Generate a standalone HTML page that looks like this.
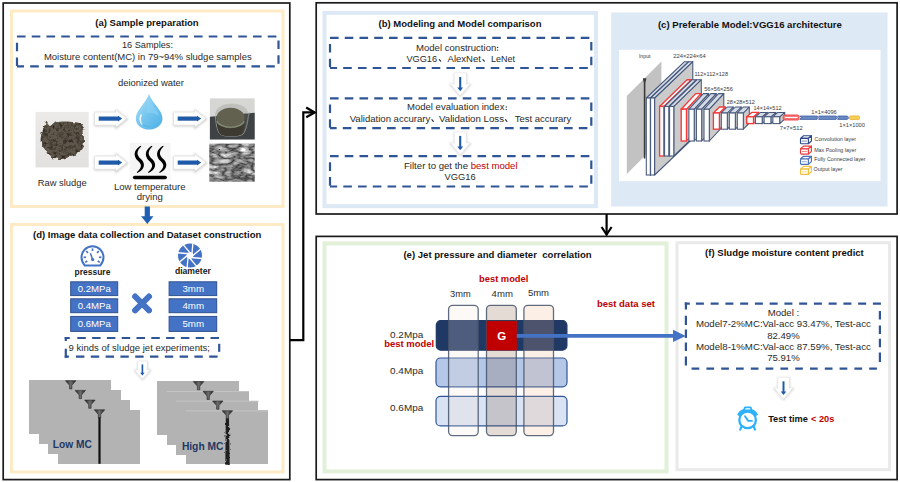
<!DOCTYPE html>
<html><head><meta charset="utf-8"><style>
html,body{margin:0;padding:0;background:#fff;}
body{width:900px;height:482px;overflow:hidden;}
svg{display:block;font-family:"Liberation Sans", sans-serif;}
</style></head><body>
<svg width="900" height="482" viewBox="0 0 900 482">
<defs>
<filter id="blur1" color-interpolation-filters="sRGB" x="-20%" y="-20%" width="140%" height="140%"><feGaussianBlur stdDeviation="0.8"/></filter>
<filter id="rough" color-interpolation-filters="sRGB" x="-10%" y="-10%" width="120%" height="120%"><feTurbulence type="fractalNoise" baseFrequency="0.35" numOctaves="2" seed="3" result="n"/><feDisplacementMap in="SourceGraphic" in2="n" scale="3.5" xChannelSelector="R" yChannelSelector="G"/></filter>
<filter id="lumpy" color-interpolation-filters="sRGB" x="-10%" y="-10%" width="120%" height="120%"><feTurbulence type="fractalNoise" baseFrequency="0.22" numOctaves="2" seed="8" result="n"/><feDisplacementMap in="SourceGraphic" in2="n" scale="5" xChannelSelector="R" yChannelSelector="G"/></filter>
<filter id="marble" color-interpolation-filters="sRGB" x="0" y="0" width="100%" height="100%"><feTurbulence type="turbulence" baseFrequency="0.075 0.17" numOctaves="3" seed="11" result="n"/><feColorMatrix in="n" type="matrix" values="1.05 0 0 0 0.2  1.05 0 0 0 0.2  1.05 0 0 0 0.2  0 0 0 0 1" result="c"/><feComposite in="c" in2="SourceGraphic" operator="in"/></filter>
<filter id="mottle" color-interpolation-filters="sRGB" x="0" y="0" width="100%" height="100%"><feTurbulence type="fractalNoise" baseFrequency="0.3" numOctaves="2" seed="5" result="n"/><feColorMatrix in="n" type="matrix" values="0 0 0 0 0.18  0 0 0 0 0.16  0 0 0 0 0.13  2.6 0 0 0 -1.1" result="d"/><feComposite in="d" in2="SourceGraphic" operator="in"/></filter>
<linearGradient id="gSludgeBg" x1="0" y1="0" x2="0" y2="1"><stop offset="0" stop-color="#ebeae8"/><stop offset="1" stop-color="#e2e1df"/></linearGradient>
<linearGradient id="gDrop" x1="0" y1="0" x2="1" y2="1"><stop offset="0" stop-color="#b9e4f9"/><stop offset="0.5" stop-color="#74c5ee"/><stop offset="1" stop-color="#4cb0e6"/></linearGradient>
<linearGradient id="gBeakBg" x1="0" y1="0" x2="0" y2="1"><stop offset="0" stop-color="#d6d8d6"/><stop offset="0.45" stop-color="#cfd1cf"/><stop offset="0.47" stop-color="#3b3d40"/><stop offset="1" stop-color="#4a4c4e"/></linearGradient>
<linearGradient id="gFun" x1="0" y1="0" x2="1" y2="0"><stop offset="0" stop-color="#1e1e1e"/><stop offset="0.5" stop-color="#707070"/><stop offset="1" stop-color="#1e1e1e"/></linearGradient>
</defs>
<rect width="900" height="482" fill="#fff"/>
<rect x="3.2" y="3" width="286.6" height="476.6" fill="none" stroke="#1b1b1b" stroke-width="1.7" rx="0"/>
<rect x="316.2" y="2.8" width="580.9" height="211.2" fill="none" stroke="#1b1b1b" stroke-width="1.7" rx="0"/>
<rect x="316.2" y="236.4" width="580.9" height="243.2" fill="none" stroke="#1b1b1b" stroke-width="1.7" rx="0"/>
<rect x="11.5" y="11" width="271.5" height="195.5" fill="none" stroke="#FEEBC6" stroke-width="3" rx="0"/>
<rect x="11.5" y="224.5" width="271.5" height="247.5" fill="none" stroke="#FEEBC6" stroke-width="3" rx="0"/>
<rect x="324.5" y="12.9" width="271.5" height="193.3" fill="none" stroke="#DEE9F6" stroke-width="4" rx="0"/>
<rect x="611.2" y="12.5" width="276.3" height="194" fill="#DEE9F6" stroke="none" stroke-width="1" rx="0"/>
<rect x="619" y="49.8" width="261.5" height="131.4" fill="#FFFFFF" stroke="none" stroke-width="1" rx="0"/>
<rect x="324.5" y="243.4" width="342" height="228" fill="none" stroke="#E2F0D9" stroke-width="4" rx="0"/>
<rect x="677" y="242.7" width="212.5" height="227" fill="none" stroke="#EAEAEA" stroke-width="3" rx="0"/>
<polyline points="290,340.2 303.3,340.2 303.3,112.4 314.5,112.4" fill="none" stroke="#000" stroke-width="2.2"/>
<polyline points="306.2,107.6 314.6,112.4 306.2,117.2" fill="none" stroke="#000" stroke-width="2.3"/>
<line x1="606.6" y1="214" x2="606.6" y2="235.2" stroke="#000" stroke-width="2.2"/>
<polyline points="601.6,227.0 606.6,234.6 611.6,227.0" fill="none" stroke="#000" stroke-width="2.2"/>
<text x="95.3" y="26" font-size="9.55" font-weight="bold" fill="#111" text-anchor="start" textLength="103.4" lengthAdjust="spacingAndGlyphs">(a) Sample preparation</text>
<path d="M17,36.5 H278.5 V66.3 H17" fill="none" stroke="#2F5597" stroke-width="2.2" stroke-dasharray="8.6 6.15"/>
<path d="M17,36.5 V66.3" fill="none" stroke="#2F5597" stroke-width="2.2" stroke-dasharray="8.6 6.15" stroke-dashoffset="8.6"/>
<text x="121.9" y="48.3" font-size="9.3" font-weight="normal" fill="#2a2a2a" text-anchor="start" textLength="51.1" lengthAdjust="spacingAndGlyphs">16 Samples:</text>
<text x="43.9" y="59.8" font-size="9.5" font-weight="normal" fill="#2a2a2a" text-anchor="start" textLength="207.8" lengthAdjust="spacingAndGlyphs">Moisture content(MC) in 79~94% sludge samples</text>
<text x="118" y="85.7" font-size="9.4" font-weight="normal" fill="#2a2a2a" text-anchor="start" textLength="66" lengthAdjust="spacingAndGlyphs">deionized water</text>
<text x="37.8" y="185.9" font-size="9.4" font-weight="normal" fill="#2a2a2a" text-anchor="start" textLength="48.9" lengthAdjust="spacingAndGlyphs">Raw sludge</text>
<text x="113.9" y="190.1" font-size="9.5" font-weight="normal" fill="#2a2a2a" text-anchor="start" textLength="71.7" lengthAdjust="spacingAndGlyphs">Low temperature</text>
<text x="136.7" y="200.2" font-size="9.5" font-weight="normal" fill="#2a2a2a" text-anchor="start" textLength="26.1" lengthAdjust="spacingAndGlyphs">drying</text>
<rect x="35.5" y="111.9" width="53.2" height="55.5" fill="url(#gSludgeBg)" stroke="none" stroke-width="1" rx="0"/>
<g filter="url(#lumpy)"><path d="M46.4,120.8 C48,123 49.5,125.5 51,126.2 C53,124 56,122 60,121.8 C65,121 70,122 75,122.3 C79,122.5 82,123.5 82.8,126.5 C84,131 83.5,136 84,141 C84.2,145 83,149 80.5,152 C77,154 73,155 69,157 C65,159 60,159.5 55,158.5 C51,157 48.5,154 46.5,151 C43.5,148 41,145 40.8,141 C40.5,137 41.5,133 43,130 C44,127 44.5,123.5 46.4,120.8 Z" fill="#60574b"/><path d="M46.4,120.8 C48,123 49.5,125.5 51,126.2 C53,124 56,122 60,121.8 C65,121 70,122 75,122.3 C79,122.5 82,123.5 82.8,126.5 C84,131 83.5,136 84,141 C84.2,145 83,149 80.5,152 C77,154 73,155 69,157 C65,159 60,159.5 55,158.5 C51,157 48.5,154 46.5,151 C43.5,148 41,145 40.8,141 C40.5,137 41.5,133 43,130 C44,127 44.5,123.5 46.4,120.8 Z" fill="#000" filter="url(#mottle)"/></g>
<polygon points="95.30,113.00 116.30,113.00 116.30,111.00 126.80,119.20 116.30,127.40 116.30,125.40 95.30,125.40" fill="none" stroke="#cfcfcf" stroke-width="2.2" filter="url(#blur1)" stroke-linejoin="miter"/>
<polygon points="95.00,112.40 116.00,112.40 116.00,110.40 126.50,118.60 116.00,126.80 116.00,124.80 95.00,124.80" fill="#ffffff" stroke="none" stroke-width="1"/>
<line x1="98.7" y1="118.6" x2="119.0" y2="118.6" stroke="#1F5AA8" stroke-width="4.2"/>
<polygon points="118.00,115.70 122.20,118.60 118.00,121.50" fill="#1F5AA8" stroke="none" stroke-width="1"/>
<polygon points="174.30,113.00 195.30,113.00 195.30,111.00 205.80,119.20 195.30,127.40 195.30,125.40 174.30,125.40" fill="none" stroke="#cfcfcf" stroke-width="2.2" filter="url(#blur1)" stroke-linejoin="miter"/>
<polygon points="174.00,112.40 195.00,112.40 195.00,110.40 205.50,118.60 195.00,126.80 195.00,124.80 174.00,124.80" fill="#ffffff" stroke="none" stroke-width="1"/>
<line x1="177.7" y1="118.6" x2="198.0" y2="118.6" stroke="#1F5AA8" stroke-width="4.2"/>
<polygon points="197.00,115.70 201.20,118.60 197.00,121.50" fill="#1F5AA8" stroke="none" stroke-width="1"/>
<polygon points="95.30,157.00 116.30,157.00 116.30,155.00 126.80,163.20 116.30,171.40 116.30,169.40 95.30,169.40" fill="none" stroke="#cfcfcf" stroke-width="2.2" filter="url(#blur1)" stroke-linejoin="miter"/>
<polygon points="95.00,156.40 116.00,156.40 116.00,154.40 126.50,162.60 116.00,170.80 116.00,168.80 95.00,168.80" fill="#ffffff" stroke="none" stroke-width="1"/>
<line x1="98.7" y1="162.6" x2="119.0" y2="162.6" stroke="#1F5AA8" stroke-width="4.2"/>
<polygon points="118.00,159.70 122.20,162.60 118.00,165.50" fill="#1F5AA8" stroke="none" stroke-width="1"/>
<polygon points="174.30,157.00 195.30,157.00 195.30,155.00 205.80,163.20 195.30,171.40 195.30,169.40 174.30,169.40" fill="none" stroke="#cfcfcf" stroke-width="2.2" filter="url(#blur1)" stroke-linejoin="miter"/>
<polygon points="174.00,156.40 195.00,156.40 195.00,154.40 205.50,162.60 195.00,170.80 195.00,168.80 174.00,168.80" fill="#ffffff" stroke="none" stroke-width="1"/>
<line x1="177.7" y1="162.6" x2="198.0" y2="162.6" stroke="#1F5AA8" stroke-width="4.2"/>
<polygon points="197.00,159.70 201.20,162.60 197.00,165.50" fill="#1F5AA8" stroke="none" stroke-width="1"/>
<path d="M149,94 C152,103 162.5,110 162.5,118.5 C162.5,125 156.5,129.6 149,129.6 C141.5,129.6 135.8,125 135.8,118.5 C135.8,110 146,103 149,94 Z" fill="url(#gDrop)"/>
<path d="M149,97 C151,104 158,110 159,116 C155,113 150,112 146,113 C147,108 148,102 149,97 Z" fill="#8fd3f5" opacity="0.55"/>
<path d="M141,115 C140,118 140,122 142,124" stroke="#ffffff" stroke-width="1.6" fill="none" stroke-linecap="round" opacity="0.9"/>
<path d="M140,120 C141,127 150,129 158,125 C154,127.5 144,128 140,120 Z" fill="#2d9bd8" opacity="0.35"/>
<rect x="209.9" y="98.4" width="44.8" height="41.0" fill="#d6d7d5" stroke="none" stroke-width="1" rx="0"/>
<polygon points="209.90,116.80 254.70,112.80 254.70,139.40 209.90,139.40" fill="#3f4244" stroke="none" stroke-width="1"/>
<path d="M215.4,115 C215.4,108 222.5,104 231.5,104 C240.5,104 247.6,107.5 247.8,113.5 L249.8,111.8 L248.3,116.5 C247.5,124 246,130.5 243,134.2 C238,137.2 225,137.2 220,134.2 C217,130.5 215.6,123 215.4,115 Z" fill="#6c6f66" fill-opacity="0.22" stroke="#b9bfb4" stroke-width="1" stroke-opacity="0.55"/>
<path d="M216.6,119 C216.8,126 218,131.5 220.4,134.4 C226,137 236.5,137 241.5,134.4 C243.8,131.5 244.6,126 244.8,119 Z" fill="#3d3a31"/>
<ellipse cx="230.6" cy="118.0" rx="14.1" ry="10.3" fill="#62604f"/>
<path d="M216.9,121 C219.5,129.3 241.8,129.3 244.3,121" fill="none" stroke="#8fa287" stroke-width="1.2" stroke-opacity="0.75"/>
<rect x="209.3" y="143.6" width="45.5" height="38.0" fill="#888" stroke="none" stroke-width="1" rx="0" filter="url(#marble)"/>
<rect x="129.6" y="142.8" width="41" height="37" fill="#f5f5f5" stroke="none" stroke-width="1" rx="0"/>
<polygon points="140.78,145.73 139.70,146.31 138.76,146.98 137.91,147.69 137.17,148.42 136.52,149.17 135.96,149.95 135.50,150.76 135.14,151.58 134.87,152.43 134.72,153.30 134.67,154.17 134.72,155.05 134.88,155.91 135.13,156.76 135.48,157.58 135.91,158.38 136.42,159.14 137.00,159.88 137.65,160.59 138.33,161.23 138.97,161.85 139.48,162.41 139.90,162.95 140.22,163.46 140.47,163.95 140.66,164.42 140.78,164.87 140.85,165.33 140.87,165.80 140.82,166.28 140.72,166.79 140.56,167.32 140.32,167.88 140.01,168.46 139.64,169.06 139.19,169.67 138.67,170.29 138.10,170.93 137.46,171.58 136.80,172.31 137.20,172.89 138.13,172.52 138.99,172.06 139.78,171.55 140.52,171.01 141.19,170.43 141.81,169.82 142.36,169.18 142.84,168.49 143.24,167.76 143.55,167.00 143.77,166.19 143.88,165.36 143.87,164.50 143.75,163.63 143.51,162.77 143.15,161.92 142.68,161.09 142.11,160.29 141.42,159.50 140.67,158.77 140.06,158.19 139.54,157.66 139.09,157.13 138.70,156.60 138.37,156.08 138.09,155.56 137.87,155.04 137.70,154.52 137.59,153.99 137.53,153.45 137.53,152.88 137.60,152.29 137.74,151.66 137.96,151.00 138.26,150.30 138.66,149.57 139.16,148.81 139.76,148.01 140.45,147.19 141.22,146.27" fill="#000" stroke="none" stroke-width="1"/>
<polygon points="151.98,145.73 150.90,146.31 149.96,146.98 149.11,147.69 148.37,148.42 147.72,149.17 147.16,149.95 146.70,150.76 146.34,151.58 146.07,152.43 145.92,153.30 145.87,154.17 145.92,155.05 146.08,155.91 146.33,156.76 146.68,157.58 147.11,158.38 147.62,159.14 148.20,159.88 148.85,160.59 149.53,161.23 150.17,161.85 150.68,162.41 151.10,162.95 151.42,163.46 151.67,163.95 151.86,164.42 151.98,164.87 152.05,165.33 152.07,165.80 152.02,166.28 151.92,166.79 151.76,167.32 151.52,167.88 151.21,168.46 150.84,169.06 150.39,169.67 149.87,170.29 149.30,170.93 148.66,171.58 148.00,172.31 148.40,172.89 149.33,172.52 150.19,172.06 150.98,171.55 151.72,171.01 152.39,170.43 153.01,169.82 153.56,169.18 154.04,168.49 154.44,167.76 154.75,167.00 154.97,166.19 155.08,165.36 155.07,164.50 154.95,163.63 154.71,162.77 154.35,161.92 153.88,161.09 153.31,160.29 152.62,159.50 151.87,158.77 151.26,158.19 150.74,157.66 150.29,157.13 149.90,156.60 149.57,156.08 149.29,155.56 149.07,155.04 148.90,154.52 148.79,153.99 148.73,153.45 148.73,152.88 148.80,152.29 148.94,151.66 149.16,151.00 149.46,150.30 149.86,149.57 150.36,148.81 150.96,148.01 151.65,147.19 152.42,146.27" fill="#000" stroke="none" stroke-width="1"/>
<polygon points="163.18,145.73 162.10,146.31 161.16,146.98 160.31,147.69 159.57,148.42 158.92,149.17 158.36,149.95 157.90,150.76 157.54,151.58 157.27,152.43 157.12,153.30 157.07,154.17 157.12,155.05 157.28,155.91 157.53,156.76 157.88,157.58 158.31,158.38 158.82,159.14 159.40,159.88 160.05,160.59 160.73,161.23 161.37,161.85 161.88,162.41 162.30,162.95 162.62,163.46 162.87,163.95 163.06,164.42 163.18,164.87 163.25,165.33 163.27,165.80 163.22,166.28 163.12,166.79 162.96,167.32 162.72,167.88 162.41,168.46 162.04,169.06 161.59,169.67 161.07,170.29 160.50,170.93 159.86,171.58 159.20,172.31 159.60,172.89 160.53,172.52 161.39,172.06 162.18,171.55 162.92,171.01 163.59,170.43 164.21,169.82 164.76,169.18 165.24,168.49 165.64,167.76 165.95,167.00 166.17,166.19 166.28,165.36 166.27,164.50 166.15,163.63 165.91,162.77 165.55,161.92 165.08,161.09 164.51,160.29 163.82,159.50 163.07,158.77 162.46,158.19 161.94,157.66 161.49,157.13 161.10,156.60 160.77,156.08 160.49,155.56 160.27,155.04 160.10,154.52 159.99,153.99 159.93,153.45 159.93,152.88 160.00,152.29 160.14,151.66 160.36,151.00 160.66,150.30 161.06,149.57 161.56,148.81 162.16,148.01 162.85,147.19 163.62,146.27" fill="#000" stroke="none" stroke-width="1"/>
<line x1="134.6" y1="177.5" x2="165.2" y2="177.5" stroke="#000" stroke-width="3.5" stroke-linecap="round"/>
<polygon points="144.70,206.40 149.90,206.40 149.90,216.30 153.50,216.30 147.30,224.00 141.10,216.30 144.70,216.30" fill="#1F5FB4" stroke="none" stroke-width="1"/>
<text x="33" y="238" font-size="9.55" font-weight="bold" fill="#111" text-anchor="start" textLength="228.3" lengthAdjust="spacingAndGlyphs">(d) Image data collection and Dataset construction</text>
<path d="M84.8,265.6 C82.6,263 81.5,260.5 81.5,257.3 A11,11 0 0 1 103.5,257.3 C103.5,260.5 102.4,263 100.2,265.6 Z" fill="none" stroke="#4472C4" stroke-width="2.0" stroke-linejoin="round"/>
<line x1="92.5" y1="250.9" x2="92.5" y2="248.4" stroke="#4472C4" stroke-width="1.7"/>
<line x1="97.02548339959391" y1="252.77451660040612" x2="98.79325035256028" y2="251.00674964743973" stroke="#4472C4" stroke-width="1.7"/>
<line x1="87.97451660040609" y1="252.77451660040612" x2="86.20674964743972" y2="251.00674964743973" stroke="#4472C4" stroke-width="1.7"/>
<line x1="98.9" y1="257.3" x2="101.4" y2="257.3" stroke="#4472C4" stroke-width="1.7"/>
<line x1="86.1" y1="257.3" x2="83.6" y2="257.3" stroke="#4472C4" stroke-width="1.7"/>
<line x1="97.74257308344954" y1="260.9708891926467" x2="99.79045319417203" y2="262.40483028352435" stroke="#4472C4" stroke-width="1.7"/>
<line x1="87.25742691655046" y1="260.9708891926467" x2="85.20954680582797" y2="262.40483028352435" stroke="#4472C4" stroke-width="1.7"/>
<line x1="92.6" y1="259.6" x2="90.4" y2="253.2" stroke="#4472C4" stroke-width="1.5"/>
<circle cx="92.7" cy="259.6" r="1.6" fill="#4472C4"/>
<circle cx="190" cy="255.6" r="12" fill="#4472C4"/>
<line x1="190.83931436114597" y1="257.4803061993128" x2="202.29555338920102" y2="258.4825972409109" stroke="#ffffff" stroke-width="1.35"/>
<line x1="189.2639076120724" y1="257.5230621405547" x2="196.65596512346758" y2="266.33257323642295" stroke="#ffffff" stroke-width="1.35"/>
<line x1="188.1196938006872" y1="256.43931436114593" x2="187.11740275908912" y2="267.89555338920104" stroke="#ffffff" stroke-width="1.35"/>
<line x1="188.07693785944525" y1="254.86390761207238" x2="179.267426763577" y2="262.2559651234676" stroke="#ffffff" stroke-width="1.35"/>
<line x1="189.16068563885403" y1="253.7196938006872" x2="177.70444661079898" y2="252.71740275908914" stroke="#ffffff" stroke-width="1.35"/>
<line x1="190.7360923879276" y1="253.67693785944525" x2="183.34403487653242" y2="244.867426763577" stroke="#ffffff" stroke-width="1.35"/>
<line x1="191.8803061993128" y1="254.76068563885403" x2="192.88259724091085" y2="243.30444661079898" stroke="#ffffff" stroke-width="1.35"/>
<line x1="191.92306214055475" y1="256.33609238792764" x2="200.732573236423" y2="248.94403487653244" stroke="#ffffff" stroke-width="1.35"/>
<circle cx="190" cy="255.6" r="3.3" fill="#ffffff"/>
<text x="74.6" y="275" font-size="8.5" font-weight="bold" fill="#1a1a1a" text-anchor="start" textLength="35.8" lengthAdjust="spacingAndGlyphs">pressure</text>
<text x="174.9" y="274.2" font-size="8.6" font-weight="bold" fill="#1a1a1a" text-anchor="start" textLength="35.9" lengthAdjust="spacingAndGlyphs">diameter</text>
<rect x="70.7" y="281.8" width="47" height="13.800000000000011" fill="#4472C4" stroke="#2F528F" stroke-width="1" rx="0"/>
<text x="77.7" y="291.9" font-size="9.6" font-weight="normal" fill="#ffffff" text-anchor="start" textLength="33.1" lengthAdjust="spacingAndGlyphs">0.2MPa</text>
<rect x="70.7" y="298.8" width="47" height="13.899999999999977" fill="#4472C4" stroke="#2F528F" stroke-width="1" rx="0"/>
<text x="77.7" y="309.0" font-size="9.6" font-weight="normal" fill="#ffffff" text-anchor="start" textLength="33.1" lengthAdjust="spacingAndGlyphs">0.4MPa</text>
<rect x="70.7" y="316.4" width="47" height="15.0" fill="#4472C4" stroke="#2F528F" stroke-width="1" rx="0"/>
<text x="77.7" y="327.2" font-size="9.6" font-weight="normal" fill="#ffffff" text-anchor="start" textLength="33.1" lengthAdjust="spacingAndGlyphs">0.6MPa</text>
<rect x="169.1" y="281.8" width="47.6" height="13.800000000000011" fill="#4472C4" stroke="#2F528F" stroke-width="1" rx="0"/>
<text x="182.4" y="292.3" font-size="9.6" font-weight="normal" fill="#ffffff" text-anchor="start" textLength="21.6" lengthAdjust="spacingAndGlyphs">3mm</text>
<rect x="169.1" y="298.8" width="47.6" height="13.899999999999977" fill="#4472C4" stroke="#2F528F" stroke-width="1" rx="0"/>
<text x="182.4" y="309.1" font-size="9.6" font-weight="normal" fill="#ffffff" text-anchor="start" textLength="21.6" lengthAdjust="spacingAndGlyphs">4mm</text>
<rect x="169.1" y="316.4" width="47.6" height="15.0" fill="#4472C4" stroke="#2F528F" stroke-width="1" rx="0"/>
<text x="182.4" y="327.1" font-size="9.6" font-weight="normal" fill="#ffffff" text-anchor="start" textLength="21.6" lengthAdjust="spacingAndGlyphs">5mm</text>
<line x1="135.1" y1="296.5" x2="149.0" y2="310.4" stroke="#4472C4" stroke-width="6.0" stroke-linecap="round"/>
<line x1="149.0" y1="296.5" x2="135.1" y2="310.4" stroke="#4472C4" stroke-width="6.0" stroke-linecap="round"/>
<path d="M64.70,338.0 H69.80 M77.30,338.0 H85.80 M92.10,338.0 H100.60 M106.90,338.0 H115.40 M121.70,338.0 H130.20 M136.50,338.0 H145.00 M151.30,338.0 H159.80 M166.10,338.0 H174.60 M180.90,338.0 H189.40 M195.70,338.0 H204.20 M210.50,338.0 H219.00" fill="none" stroke="#2F5597" stroke-width="2.2"/>
<path d="M219.2,343.80 V351.80" fill="none" stroke="#2F5597" stroke-width="2.2"/>
<path d="M64.70,356.7 H68.90 M76.00,356.7 H84.40 M90.80,356.7 H99.20 M105.60,356.7 H114.00 M120.40,356.7 H128.80 M135.20,356.7 H143.60 M150.00,356.7 H158.40 M164.80,356.7 H173.20 M179.60,356.7 H188.00 M194.40,356.7 H202.80 M209.20,356.7 H217.60" fill="none" stroke="#2F5597" stroke-width="2.2"/>
<path d="M65.8,337.00 V341.10 M65.8,348.70 V357.80" fill="none" stroke="#2F5597" stroke-width="2.2"/>
<text x="68.6" y="350.6" font-size="9.5" font-weight="normal" fill="#2a2a2a" text-anchor="start" textLength="141.4" lengthAdjust="spacingAndGlyphs">9 kinds of sludge jet experiments;</text>
<polygon points="138.23,362.10 146.97,362.10 146.97,370.68 149.93,370.68 142.60,379.26 135.27,370.68 138.23,370.68" fill="none" stroke="#d3d3d3" stroke-width="1.8" filter="url(#blur1)"/>
<polygon points="138.03,361.50 146.77,361.50 146.77,370.08 149.73,370.08 142.40,378.66 135.07,370.08 138.03,370.08" fill="#ffffff" stroke="none" stroke-width="1"/>
<line x1="142.4" y1="364.386" x2="142.4" y2="373.2" stroke="#1F5AA8" stroke-width="1.6380000000000001"/>
<polygon points="140.14,372.65 144.66,372.65 142.40,375.54" fill="#1F5AA8" stroke="none" stroke-width="1"/>
<rect x="29" y="380" width="82" height="54" fill="#b3b3b3" stroke="none" stroke-width="1" rx="0" shape-rendering="crispEdges"/>
<rect x="39" y="390" width="82" height="54" fill="#b3b3b3" stroke="none" stroke-width="1" rx="0" shape-rendering="crispEdges"/>
<rect x="48" y="400" width="82" height="54" fill="#b3b3b3" stroke="none" stroke-width="1" rx="0" shape-rendering="crispEdges"/>
<rect x="58" y="410" width="82" height="54" fill="#b3b3b3" stroke="none" stroke-width="1" rx="0" shape-rendering="crispEdges"/>
<polygon points="65.50,380.70 75.90,380.70 71.90,385.30 71.90,388.90 69.50,388.90 69.50,385.30" fill="url(#gFun)" stroke="#2a2a2a" stroke-width="0.6"/>
<polygon points="75.10,390.40 85.50,390.40 81.50,395.00 81.50,398.60 79.10,398.60 79.10,395.00" fill="url(#gFun)" stroke="#2a2a2a" stroke-width="0.6"/>
<polygon points="84.70,400.10 95.10,400.10 91.10,404.70 91.10,408.30 88.70,408.30 88.70,404.70" fill="url(#gFun)" stroke="#2a2a2a" stroke-width="0.6"/>
<polygon points="94.30,409.80 104.70,409.80 100.70,414.40 100.70,418.00 98.30,418.00 98.30,414.40" fill="url(#gFun)" stroke="#2a2a2a" stroke-width="0.6"/>
<rect x="98.4" y="417.5" width="2.2" height="46.30000000000001" fill="#111" stroke="none" stroke-width="1" rx="0"/>
<rect x="157" y="381" width="82" height="54" fill="#b3b3b3" stroke="none" stroke-width="1" rx="0" shape-rendering="crispEdges"/>
<rect x="167" y="391" width="82" height="54" fill="#b3b3b3" stroke="none" stroke-width="1" rx="0" shape-rendering="crispEdges"/>
<line x1="166.6" y1="391.5" x2="249.0" y2="391.5" stroke="#c4c4c4" stroke-width="1"/>
<rect x="176" y="401" width="82" height="54" fill="#b3b3b3" stroke="none" stroke-width="1" rx="0" shape-rendering="crispEdges"/>
<line x1="176.2" y1="401.2" x2="258.6" y2="401.2" stroke="#c4c4c4" stroke-width="1"/>
<rect x="186" y="410" width="82" height="54" fill="#b3b3b3" stroke="none" stroke-width="1" rx="0" shape-rendering="crispEdges"/>
<line x1="185.8" y1="410.90000000000003" x2="268.20000000000005" y2="410.90000000000003" stroke="#c4c4c4" stroke-width="1"/>
<polygon points="193.40,381.60 203.80,381.60 199.80,386.20 199.80,389.80 197.40,389.80 197.40,386.20" fill="url(#gFun)" stroke="#2a2a2a" stroke-width="0.6"/>
<polygon points="203.00,391.30 213.40,391.30 209.40,395.90 209.40,399.50 207.00,399.50 207.00,395.90" fill="url(#gFun)" stroke="#2a2a2a" stroke-width="0.6"/>
<polygon points="212.60,401.00 223.00,401.00 219.00,405.60 219.00,409.20 216.60,409.20 216.60,405.60" fill="url(#gFun)" stroke="#2a2a2a" stroke-width="0.6"/>
<polygon points="222.20,410.70 232.60,410.70 228.60,415.30 228.60,418.90 226.20,418.90 226.20,415.30" fill="url(#gFun)" stroke="#2a2a2a" stroke-width="0.6"/>
<path d="M225.79999999999998,418.40000000000003 L228.99999999999997,418.40000000000003 L229.7,464.70000000000005 L225.29999999999998,464.70000000000005 Z" fill="#1f1f1f" filter="url(#rough)"/>
<text x="52.8" y="447.8" font-size="10.2" font-weight="bold" fill="#203864" text-anchor="start" textLength="39" lengthAdjust="spacingAndGlyphs">Low MC</text>
<text x="181.9" y="449.9" font-size="10.2" font-weight="bold" fill="#203864" text-anchor="start" textLength="41.5" lengthAdjust="spacingAndGlyphs">High MC</text>
<text x="378.5" y="27.1" font-size="9.55" font-weight="bold" fill="#111" text-anchor="start" textLength="163" lengthAdjust="spacingAndGlyphs">(b) Modeling and Model comparison</text>
<path d="M330,37.8 H591.3 V68.0 H330" fill="none" stroke="#2F5597" stroke-width="2.2" stroke-dasharray="8.6 6.15"/>
<path d="M330,37.8 V68.0" fill="none" stroke="#2F5597" stroke-width="2.2" stroke-dasharray="8.6 6.15" stroke-dashoffset="8.6"/>
<text x="416" y="50.7" font-size="9.7" font-weight="normal" fill="#2a2a2a" text-anchor="start" textLength="80.3" lengthAdjust="spacingAndGlyphs">Model construction</text>
<circle cx="497.6" cy="47.4" r="0.72" fill="#2a2a2a"/><circle cx="497.6" cy="50.1" r="0.72" fill="#2a2a2a"/>
<text x="406.4" y="61.6" font-size="9.6" font-weight="normal" fill="#2a2a2a" text-anchor="start" textLength="30.6" lengthAdjust="spacingAndGlyphs">VGG16</text>
<path d="M439.3,59.6 L440.70000000000005,61.2" stroke="#2a2a2a" stroke-width="1.15" stroke-linecap="round"/>
<text x="447.5" y="61.6" font-size="9.6" font-weight="normal" fill="#2a2a2a" text-anchor="start" textLength="33.5" lengthAdjust="spacingAndGlyphs">AlexNet</text>
<path d="M482.9,59.6 L484.3,61.2" stroke="#2a2a2a" stroke-width="1.15" stroke-linecap="round"/>
<text x="491.0" y="61.6" font-size="9.6" font-weight="normal" fill="#2a2a2a" text-anchor="start" textLength="24" lengthAdjust="spacingAndGlyphs">LeNet</text>
<polygon points="454.80,73.90 466.00,73.90 466.00,84.90 469.80,84.90 460.40,95.90 451.00,84.90 454.80,84.90" fill="none" stroke="#d3d3d3" stroke-width="1.8" filter="url(#blur1)"/>
<polygon points="454.60,73.30 465.80,73.30 465.80,84.30 469.60,84.30 460.20,95.30 450.80,84.30 454.60,84.30" fill="#ffffff" stroke="none" stroke-width="1"/>
<line x1="460.2" y1="77.0" x2="460.2" y2="88.3" stroke="#1F5AA8" stroke-width="2.1"/>
<polygon points="457.30,87.60 463.10,87.60 460.20,91.30" fill="#1F5AA8" stroke="none" stroke-width="1"/>
<path d="M330,98.3 H591.3 V128.1 H330" fill="none" stroke="#2F5597" stroke-width="2.2" stroke-dasharray="8.6 6.15"/>
<path d="M330,98.3 V128.1" fill="none" stroke="#2F5597" stroke-width="2.2" stroke-dasharray="8.6 6.15" stroke-dashoffset="8.6"/>
<text x="407" y="110.2" font-size="9.7" font-weight="normal" fill="#2a2a2a" text-anchor="start" textLength="97.4" lengthAdjust="spacingAndGlyphs">Model evaluation index</text>
<circle cx="506.3" cy="106.9" r="0.72" fill="#2a2a2a"/><circle cx="506.3" cy="109.6" r="0.72" fill="#2a2a2a"/>
<text x="349.7" y="121.7" font-size="9.6" font-weight="normal" fill="#2a2a2a" text-anchor="start" textLength="80.6" lengthAdjust="spacingAndGlyphs">Validation accurary</text>
<path d="M431.9,119.7 L433.3,121.3" stroke="#2a2a2a" stroke-width="1.15" stroke-linecap="round"/>
<text x="439" y="121.7" font-size="9.6" font-weight="normal" fill="#2a2a2a" text-anchor="start" textLength="65" lengthAdjust="spacingAndGlyphs">Validation Loss</text>
<path d="M505.5,119.7 L506.90000000000003,121.3" stroke="#2a2a2a" stroke-width="1.15" stroke-linecap="round"/>
<text x="514.7" y="121.7" font-size="9.6" font-weight="normal" fill="#2a2a2a" text-anchor="start" textLength="56.6" lengthAdjust="spacingAndGlyphs">Test accurary</text>
<polygon points="454.80,132.80 466.00,132.80 466.00,143.80 469.80,143.80 460.40,154.80 451.00,143.80 454.80,143.80" fill="none" stroke="#d3d3d3" stroke-width="1.8" filter="url(#blur1)"/>
<polygon points="454.60,132.20 465.80,132.20 465.80,143.20 469.60,143.20 460.20,154.20 450.80,143.20 454.60,143.20" fill="#ffffff" stroke="none" stroke-width="1"/>
<line x1="460.2" y1="135.89999999999998" x2="460.2" y2="147.2" stroke="#1F5AA8" stroke-width="2.1"/>
<polygon points="457.30,146.50 463.10,146.50 460.20,150.20" fill="#1F5AA8" stroke="none" stroke-width="1"/>
<path d="M330,156.2 H591.3 V186.5 H330" fill="none" stroke="#2F5597" stroke-width="2.2" stroke-dasharray="8.6 6.15"/>
<path d="M330,156.2 V186.5" fill="none" stroke="#2F5597" stroke-width="2.2" stroke-dasharray="8.6 6.15" stroke-dashoffset="8.6"/>
<text x="404" y="169.3" font-size="9.6" fill="#2a2a2a" textLength="113.6" lengthAdjust="spacingAndGlyphs">Filter to get the <tspan fill="#C00000">best model</tspan></text>
<text x="444.5" y="180.2" font-size="9.6" font-weight="normal" fill="#2a2a2a" text-anchor="start" textLength="31.1" lengthAdjust="spacingAndGlyphs">VGG16</text>
<text x="657.9" y="27.6" font-size="9.55" font-weight="bold" fill="#111" text-anchor="start" textLength="184" lengthAdjust="spacingAndGlyphs">(c) Preferable Model:VGG16 architecture</text>
<polygon points="626.80,96.00 661.40,61.50 661.40,139.30 626.80,174.00" fill="#c2c2c2" stroke="none" stroke-width="1"/>
<path d="M642.8,78.2 L646.4,78.2 L645.4,83 L645.4,158.6 L643.8,158.6 L643.8,83 Z" fill="#3a3a3a"/>
<polygon points="650.30,98.00 688.50,61.70 688.50,138.70 650.30,175.00" fill="#cbcbcb" stroke="#46577a" stroke-width="1.05" stroke-linejoin="round"/>
<polygon points="646.30,98.00 684.50,61.70 688.50,61.70 650.30,98.00" fill="#d5dce8" stroke="#46577a" stroke-width="1.05" stroke-linejoin="round"/>
<rect x="646.3" y="98.0" width="4.0" height="77.0" fill="#ffffff" stroke="#46577a" stroke-width="1.05" rx="0"/>
<polygon points="654.60,98.00 692.80,61.70 692.80,138.70 654.60,175.00" fill="#cbcbcb" stroke="#46577a" stroke-width="1.05" stroke-linejoin="round"/>
<polygon points="650.60,98.00 688.80,61.70 692.80,61.70 654.60,98.00" fill="#d5dce8" stroke="#46577a" stroke-width="1.05" stroke-linejoin="round"/>
<rect x="650.6" y="98.0" width="4.0" height="77.0" fill="#ffffff" stroke="#46577a" stroke-width="1.05" rx="0"/>
<polygon points="663.80,106.40 691.30,79.70 691.30,129.30 663.80,156.00" fill="#cbcbcb" stroke="#f53a3a" stroke-width="1.05" stroke-linejoin="round"/>
<polygon points="659.60,106.40 687.10,79.70 691.30,79.70 663.80,106.40" fill="#ffffff" stroke="#f53a3a" stroke-width="1.35" stroke-linejoin="round"/>
<rect x="659.6" y="106.4" width="4.2" height="49.6" fill="#ffffff" stroke="#f53a3a" stroke-width="1.35" rx="0"/>
<polygon points="668.80,106.40 696.30,79.70 696.30,129.30 668.80,156.00" fill="#cbcbcb" stroke="#46577a" stroke-width="1.05" stroke-linejoin="round"/>
<polygon points="664.60,106.40 692.10,79.70 696.30,79.70 668.80,106.40" fill="#d5dce8" stroke="#46577a" stroke-width="1.05" stroke-linejoin="round"/>
<rect x="664.6" y="106.4" width="4.2" height="49.6" fill="#ffffff" stroke="#46577a" stroke-width="1.05" rx="0"/>
<polygon points="673.80,106.40 701.30,79.70 701.30,129.30 673.80,156.00" fill="#cbcbcb" stroke="#46577a" stroke-width="1.05" stroke-linejoin="round"/>
<polygon points="669.60,106.40 697.10,79.70 701.30,79.70 673.80,106.40" fill="#d5dce8" stroke="#46577a" stroke-width="1.05" stroke-linejoin="round"/>
<rect x="669.6" y="106.4" width="4.2" height="49.6" fill="#ffffff" stroke="#46577a" stroke-width="1.05" rx="0"/>
<polygon points="686.50,109.20 701.00,93.60 701.00,125.40 686.50,141.00" fill="#cbcbcb" stroke="#f53a3a" stroke-width="1.05" stroke-linejoin="round"/>
<polygon points="681.20,109.20 695.70,93.60 701.00,93.60 686.50,109.20" fill="#ffffff" stroke="#f53a3a" stroke-width="1.35" stroke-linejoin="round"/>
<rect x="681.2" y="109.2" width="5.3" height="31.8" fill="#ffffff" stroke="#f53a3a" stroke-width="1.35" rx="0"/>
<polygon points="694.20,109.20 708.70,93.60 708.70,125.40 694.20,141.00" fill="#cbcbcb" stroke="#46577a" stroke-width="1.05" stroke-linejoin="round"/>
<polygon points="688.90,109.20 703.40,93.60 708.70,93.60 694.20,109.20" fill="#d5dce8" stroke="#46577a" stroke-width="1.05" stroke-linejoin="round"/>
<rect x="688.9" y="109.2" width="5.3" height="31.8" fill="#ffffff" stroke="#46577a" stroke-width="1.05" rx="0"/>
<polygon points="701.70,109.20 716.20,93.60 716.20,125.40 701.70,141.00" fill="#cbcbcb" stroke="#46577a" stroke-width="1.05" stroke-linejoin="round"/>
<polygon points="696.40,109.20 710.90,93.60 716.20,93.60 701.70,109.20" fill="#d5dce8" stroke="#46577a" stroke-width="1.05" stroke-linejoin="round"/>
<rect x="696.4" y="109.2" width="5.3" height="31.8" fill="#ffffff" stroke="#46577a" stroke-width="1.05" rx="0"/>
<polygon points="709.30,109.20 723.80,93.60 723.80,125.40 709.30,141.00" fill="#cbcbcb" stroke="#46577a" stroke-width="1.05" stroke-linejoin="round"/>
<polygon points="704.00,109.20 718.50,93.60 723.80,93.60 709.30,109.20" fill="#d5dce8" stroke="#46577a" stroke-width="1.05" stroke-linejoin="round"/>
<rect x="704.0" y="109.2" width="5.3" height="31.8" fill="#ffffff" stroke="#46577a" stroke-width="1.05" rx="0"/>
<polygon points="719.40,113.00 725.40,107.00 725.40,123.20 719.40,129.20" fill="#cbcbcb" stroke="#f53a3a" stroke-width="1.05" stroke-linejoin="round"/>
<polygon points="713.40,113.00 719.40,107.00 725.40,107.00 719.40,113.00" fill="#ffffff" stroke="#f53a3a" stroke-width="1.35" stroke-linejoin="round"/>
<rect x="713.4" y="112.99999999999999" width="6.0" height="16.2" fill="#ffffff" stroke="#f53a3a" stroke-width="1.35" rx="0"/>
<polygon points="727.30,113.00 733.30,107.00 733.30,123.20 727.30,129.20" fill="#cbcbcb" stroke="#46577a" stroke-width="1.05" stroke-linejoin="round"/>
<polygon points="721.30,113.00 727.30,107.00 733.30,107.00 727.30,113.00" fill="#d5dce8" stroke="#46577a" stroke-width="1.05" stroke-linejoin="round"/>
<rect x="721.3" y="112.99999999999999" width="6.0" height="16.2" fill="#ffffff" stroke="#46577a" stroke-width="1.05" rx="0"/>
<polygon points="735.30,113.00 741.30,107.00 741.30,123.20 735.30,129.20" fill="#cbcbcb" stroke="#46577a" stroke-width="1.05" stroke-linejoin="round"/>
<polygon points="729.30,113.00 735.30,107.00 741.30,107.00 735.30,113.00" fill="#d5dce8" stroke="#46577a" stroke-width="1.05" stroke-linejoin="round"/>
<rect x="729.3" y="112.99999999999999" width="6.0" height="16.2" fill="#ffffff" stroke="#46577a" stroke-width="1.05" rx="0"/>
<polygon points="743.30,113.00 749.30,107.00 749.30,123.20 743.30,129.20" fill="#cbcbcb" stroke="#46577a" stroke-width="1.05" stroke-linejoin="round"/>
<polygon points="737.30,113.00 743.30,107.00 749.30,107.00 743.30,113.00" fill="#d5dce8" stroke="#46577a" stroke-width="1.05" stroke-linejoin="round"/>
<rect x="737.3" y="112.99999999999999" width="6.0" height="16.2" fill="#ffffff" stroke="#46577a" stroke-width="1.05" rx="0"/>
<polygon points="753.50,116.80 758.50,112.40 758.50,119.20 753.50,123.60" fill="#cbcbcb" stroke="#f53a3a" stroke-width="1.05" stroke-linejoin="round"/>
<polygon points="746.70,116.80 751.70,112.40 758.50,112.40 753.50,116.80" fill="#ffffff" stroke="#f53a3a" stroke-width="1.35" stroke-linejoin="round"/>
<rect x="746.7" y="116.8" width="6.8" height="6.8" fill="#ffffff" stroke="#f53a3a" stroke-width="1.35" rx="0"/>
<polygon points="762.20,116.80 767.20,112.40 767.20,119.20 762.20,123.60" fill="#cbcbcb" stroke="#46577a" stroke-width="1.05" stroke-linejoin="round"/>
<polygon points="755.40,116.80 760.40,112.40 767.20,112.40 762.20,116.80" fill="#d5dce8" stroke="#46577a" stroke-width="1.05" stroke-linejoin="round"/>
<rect x="755.4" y="116.8" width="6.8" height="6.8" fill="#ffffff" stroke="#46577a" stroke-width="1.05" rx="0"/>
<polygon points="770.90,116.80 775.90,112.40 775.90,119.20 770.90,123.60" fill="#cbcbcb" stroke="#46577a" stroke-width="1.05" stroke-linejoin="round"/>
<polygon points="764.10,116.80 769.10,112.40 775.90,112.40 770.90,116.80" fill="#d5dce8" stroke="#46577a" stroke-width="1.05" stroke-linejoin="round"/>
<rect x="764.1" y="116.8" width="6.8" height="6.8" fill="#ffffff" stroke="#46577a" stroke-width="1.05" rx="0"/>
<polygon points="779.70,116.80 784.70,112.40 784.70,119.20 779.70,123.60" fill="#cbcbcb" stroke="#46577a" stroke-width="1.05" stroke-linejoin="round"/>
<polygon points="772.90,116.80 777.90,112.40 784.70,112.40 779.70,116.80" fill="#d5dce8" stroke="#46577a" stroke-width="1.05" stroke-linejoin="round"/>
<rect x="772.9" y="116.8" width="6.8" height="6.8" fill="#ffffff" stroke="#46577a" stroke-width="1.05" rx="0"/>
<rect x="783.2" y="115.0" width="15.8" height="5.0" fill="#f37a7a" stroke="#f53a3a" stroke-width="0.9" rx="1.5"/>
<line x1="784.8" y1="117.5" x2="797.5" y2="117.5" stroke="#ffffff" stroke-width="1.0"/>
<polygon points="799.80,116.00 817.00,116.00 818.60,117.70 817.00,119.40 799.80,119.40 801.20,117.70" fill="#6a8ac6" stroke="#3f5f9f" stroke-width="0.8" stroke-linejoin="round"/>
<polygon points="818.60,116.00 836.00,116.00 837.60,117.70 836.00,119.40 818.60,119.40 820.00,117.70" fill="#6a8ac6" stroke="#3f5f9f" stroke-width="0.8" stroke-linejoin="round"/>
<polygon points="837.60,116.00 847.30,116.00 848.90,117.70 847.30,119.40 837.60,119.40 839.00,117.70" fill="#6a8ac6" stroke="#3f5f9f" stroke-width="0.8" stroke-linejoin="round"/>
<rect x="849.4" y="115.9" width="10.2" height="3.6" fill="#f7cd5a" stroke="#eab32f" stroke-width="0.8" rx="1.5"/>
<text x="638.9" y="57.7" font-size="5.8" font-weight="normal" fill="#3a3a3a" text-anchor="start" textLength="11.7" lengthAdjust="spacingAndGlyphs">Input</text>
<text x="673.3" y="57.8" font-size="5.8" font-weight="normal" fill="#3a3a3a" text-anchor="start" textLength="32.3" lengthAdjust="spacingAndGlyphs">224×224×64</text>
<text x="694.4" y="76.3" font-size="5.8" font-weight="normal" fill="#3a3a3a" text-anchor="start" textLength="33.6" lengthAdjust="spacingAndGlyphs">112×112×128</text>
<text x="704.2" y="91.3" font-size="5.8" font-weight="normal" fill="#3a3a3a" text-anchor="start" textLength="28.6" lengthAdjust="spacingAndGlyphs">56×56×256</text>
<text x="726.8" y="103.7" font-size="5.8" font-weight="normal" fill="#3a3a3a" text-anchor="start" textLength="28.0" lengthAdjust="spacingAndGlyphs">28×28×512</text>
<text x="753.5" y="110.0" font-size="5.8" font-weight="normal" fill="#3a3a3a" text-anchor="start" textLength="28.1" lengthAdjust="spacingAndGlyphs">14×14×512</text>
<text x="779.7" y="129.7" font-size="5.8" font-weight="normal" fill="#3a3a3a" text-anchor="start" textLength="23.0" lengthAdjust="spacingAndGlyphs">7×7×512</text>
<text x="811.3" y="113.7" font-size="5.8" font-weight="normal" fill="#3a3a3a" text-anchor="start" textLength="25.4" lengthAdjust="spacingAndGlyphs">1×1×4096</text>
<text x="839.3" y="127.3" font-size="5.8" font-weight="normal" fill="#3a3a3a" text-anchor="start" textLength="25.6" lengthAdjust="spacingAndGlyphs">1×1×1000</text>
<polygon points="800.50,138.40 803.50,135.70 811.40,135.70 808.40,138.40" fill="#ffffff" stroke="#2e4a86" stroke-width="1.15" stroke-linejoin="round"/>
<polygon points="808.40,138.40 811.40,135.70 811.40,141.00 808.40,143.70" fill="#ffffff" stroke="#2e4a86" stroke-width="1.15" stroke-linejoin="round"/>
<rect x="800.5" y="138.39999999999998" width="7.9" height="5.3" fill="#ffffff" stroke="#2e4a86" stroke-width="1.15" rx="1"/>
<line x1="801.9" y1="141.1" x2="806.9" y2="141.1" stroke="#2e4a86" stroke-width="0.6"/>
<polygon points="800.50,148.80 803.50,146.10 811.40,146.10 808.40,148.80" fill="#ffffff" stroke="#ee3b3b" stroke-width="1.15" stroke-linejoin="round"/>
<polygon points="808.40,148.80 811.40,146.10 811.40,151.40 808.40,154.10" fill="#ffffff" stroke="#ee3b3b" stroke-width="1.15" stroke-linejoin="round"/>
<rect x="800.5" y="148.79999999999998" width="7.9" height="5.3" fill="#ffffff" stroke="#ee3b3b" stroke-width="1.15" rx="1"/>
<line x1="801.9" y1="151.5" x2="806.9" y2="151.5" stroke="#ee3b3b" stroke-width="0.6"/>
<polygon points="800.50,159.00 803.50,156.30 811.40,156.30 808.40,159.00" fill="#ffffff" stroke="#4a6fbb" stroke-width="1.15" stroke-linejoin="round"/>
<polygon points="808.40,159.00 811.40,156.30 811.40,161.60 808.40,164.30" fill="#ffffff" stroke="#4a6fbb" stroke-width="1.15" stroke-linejoin="round"/>
<rect x="800.5" y="159.0" width="7.9" height="5.3" fill="#ffffff" stroke="#4a6fbb" stroke-width="1.15" rx="1"/>
<line x1="801.9" y1="161.70000000000002" x2="806.9" y2="161.70000000000002" stroke="#4a6fbb" stroke-width="0.6"/>
<polygon points="800.50,169.10 803.50,166.40 811.40,166.40 808.40,169.10" fill="#ffffff" stroke="#f2c23c" stroke-width="1.15" stroke-linejoin="round"/>
<polygon points="808.40,169.10 811.40,166.40 811.40,171.70 808.40,174.40" fill="#ffffff" stroke="#f2c23c" stroke-width="1.15" stroke-linejoin="round"/>
<rect x="800.5" y="169.1" width="7.9" height="5.3" fill="#ffffff" stroke="#f2c23c" stroke-width="1.15" rx="1"/>
<line x1="801.9" y1="171.8" x2="806.9" y2="171.8" stroke="#f2c23c" stroke-width="0.6"/>
<text x="814.5" y="141.4" font-size="5.6" font-weight="normal" fill="#3a3a3a" text-anchor="start" textLength="41.5" lengthAdjust="spacingAndGlyphs">Convolution layer</text>
<text x="814.2" y="151.5" font-size="5.6" font-weight="normal" fill="#3a3a3a" text-anchor="start" textLength="42.0" lengthAdjust="spacingAndGlyphs">Max Pooling layer</text>
<text x="814.2" y="161.4" font-size="5.6" font-weight="normal" fill="#3a3a3a" text-anchor="start" textLength="51.4" lengthAdjust="spacingAndGlyphs">Fully Connected layer</text>
<text x="813.6" y="171.1" font-size="5.6" font-weight="normal" fill="#3a3a3a" text-anchor="start" textLength="29.0" lengthAdjust="spacingAndGlyphs">Output layer</text>
<text x="403.4" y="257.6" font-size="9.55" font-weight="bold" fill="#111" text-anchor="start" textLength="188.3" lengthAdjust="spacingAndGlyphs">(e) Jet pressure and diameter&#160; correlation</text>
<text x="479.1" y="282.4" font-size="9.3" font-weight="bold" fill="#C00000" text-anchor="start" textLength="49.2" lengthAdjust="spacingAndGlyphs">best model</text>
<text x="450.1" y="296.9" font-size="9.4" font-weight="normal" fill="#2a2a2a" text-anchor="start" textLength="20.7" lengthAdjust="spacingAndGlyphs">3mm</text>
<text x="491.6" y="296.9" font-size="9.4" font-weight="normal" fill="#2a2a2a" text-anchor="start" textLength="21.3" lengthAdjust="spacingAndGlyphs">4mm</text>
<text x="527.9" y="296.3" font-size="9.4" font-weight="normal" fill="#2a2a2a" text-anchor="start" textLength="21.1" lengthAdjust="spacingAndGlyphs">5mm</text>
<text x="596.9" y="307.0" font-size="9.3" font-weight="bold" fill="#C00000" text-anchor="start" textLength="58.1" lengthAdjust="spacingAndGlyphs">best data set</text>
<text x="390.1" y="338.3" font-size="9.5" font-weight="normal" fill="#2a2a2a" text-anchor="start" textLength="33.1" lengthAdjust="spacingAndGlyphs">0.2Mpa</text>
<text x="384.3" y="347.3" font-size="9.3" font-weight="bold" fill="#C00000" text-anchor="start" textLength="49.9" lengthAdjust="spacingAndGlyphs">best model</text>
<text x="390.1" y="374.1" font-size="9.5" font-weight="normal" fill="#2a2a2a" text-anchor="start" textLength="33.1" lengthAdjust="spacingAndGlyphs">0.4Mpa</text>
<text x="390.1" y="411.0" font-size="9.5" font-weight="normal" fill="#2a2a2a" text-anchor="start" textLength="33.1" lengthAdjust="spacingAndGlyphs">0.6Mpa</text>
<rect x="436.3" y="320.6" width="130.6" height="29.6" fill="#1F3864" stroke="#1F3864" stroke-width="1.2" rx="4.5"/>
<rect x="436.0" y="358.0" width="131" height="28.8" fill="#B4C7E7" stroke="#2F5597" stroke-width="1.2" rx="4.5"/>
<rect x="436.0" y="396.3" width="131" height="29.6" fill="#DAE3F3" stroke="#2F5597" stroke-width="1.2" rx="4.5"/>
<rect x="448.6" y="305.3" width="29.6" height="130.3" fill="#f6e3d4" stroke="none" stroke-width="1" rx="4" fill-opacity="0.22"/>
<rect x="486.5" y="305.3" width="29.8" height="130.3" fill="#7a4b2c" stroke="none" stroke-width="1" rx="4" fill-opacity="0.2"/>
<rect x="523.9" y="305.3" width="29.6" height="130.3" fill="#f0b48c" stroke="none" stroke-width="1" rx="4" fill-opacity="0.22"/>
<rect x="448.6" y="305.3" width="29.6" height="130.3" fill="none" stroke="#44546A" stroke-width="1.3" rx="4" stroke-opacity="0.85"/>
<rect x="486.5" y="305.3" width="29.8" height="130.3" fill="none" stroke="#44546A" stroke-width="1.3" rx="4" stroke-opacity="0.85"/>
<rect x="523.9" y="305.3" width="29.6" height="130.3" fill="none" stroke="#44546A" stroke-width="1.3" rx="4" stroke-opacity="0.85"/>
<rect x="486.6" y="321.0" width="30.2" height="29.3" fill="#C00000" stroke="none" stroke-width="1" rx="0"/>
<text x="501.7" y="340.1" font-size="11.5" font-weight="bold" fill="#ffffff" text-anchor="middle">G</text>
<line x1="516.8" y1="335.9" x2="674" y2="335.9" stroke="#4472C4" stroke-width="3.6"/>
<polygon points="673.00,329.80 685.80,335.90 673.00,341.90" fill="#4472C4" stroke="none" stroke-width="1"/>
<text x="705.1" y="256.0" font-size="9.55" font-weight="bold" fill="#111" text-anchor="start" textLength="158.7" lengthAdjust="spacingAndGlyphs">(f) Sludge moisture content predict</text>
<path d="M684.80,303.6 H689.80 M695.90,303.6 H703.90 M710.65,303.6 H718.65 M725.40,303.6 H733.40 M740.15,303.6 H748.15 M754.90,303.6 H762.90 M769.65,303.6 H777.65 M784.40,303.6 H792.40 M799.15,303.6 H807.15 M813.90,303.6 H821.90 M828.65,303.6 H836.65 M843.40,303.6 H851.40 M858.15,303.6 H866.15 M872.90,303.6 H880.90" fill="none" stroke="#2F5597" stroke-width="2.2"/>
<path d="M879.9,311.00 V319.50 M879.9,325.60 V334.10 M879.9,338.70 V347.20 M879.9,352.50 V362.00" fill="none" stroke="#2F5597" stroke-width="2.2"/>
<path d="M869.20,368.7 H876.90 M854.40,368.7 H862.10 M839.60,368.7 H847.30 M824.80,368.7 H832.50 M810.00,368.7 H817.70 M795.20,368.7 H802.90 M780.40,368.7 H788.10 M765.60,368.7 H773.30 M750.80,368.7 H758.50 M736.00,368.7 H743.70 M721.20,368.7 H728.90 M706.40,368.7 H714.10 M691.60,368.7 H699.30" fill="none" stroke="#2F5597" stroke-width="2.2"/>
<path d="M685.9,302.50 V309.50 M685.9,315.70 V324.90 M685.9,329.50 V338.00 M685.9,342.50 V351.00 M685.9,356.40 V365.60" fill="none" stroke="#2F5597" stroke-width="2.2"/>
<text x="783.4" y="315.7" font-size="9.6" font-weight="normal" fill="#2a2a2a" text-anchor="middle">Model :</text>
<text x="695.9" y="327.3" font-size="9.6" font-weight="normal" fill="#2a2a2a" text-anchor="start" textLength="175.0" lengthAdjust="spacingAndGlyphs">Model7-2%MC:Val-acc 93.47%, Test-acc</text>
<text x="783.4" y="339.0" font-size="9.6" font-weight="normal" fill="#2a2a2a" text-anchor="middle">82.49%</text>
<text x="695.9" y="350.2" font-size="9.6" font-weight="normal" fill="#2a2a2a" text-anchor="start" textLength="175.0" lengthAdjust="spacingAndGlyphs">Model8-1%MC:Val-acc 87.59%, Test-acc</text>
<text x="783.4" y="361.2" font-size="9.6" font-weight="normal" fill="#2a2a2a" text-anchor="middle">75.91%</text>
<polygon points="778.38,378.40 789.02,378.40 789.02,388.85 792.63,388.85 783.70,399.30 774.77,388.85 778.38,388.85" fill="none" stroke="#d3d3d3" stroke-width="1.8" filter="url(#blur1)"/>
<polygon points="778.18,377.80 788.82,377.80 788.82,388.25 792.43,388.25 783.50,398.70 774.57,388.25 778.18,388.25" fill="#ffffff" stroke="none" stroke-width="1"/>
<line x1="783.5" y1="381.315" x2="783.5" y2="392.05" stroke="#1F5AA8" stroke-width="1.9949999999999999"/>
<polygon points="780.75,391.38 786.25,391.38 783.50,394.90" fill="#1F5AA8" stroke="none" stroke-width="1"/>
<circle cx="747.6" cy="419.9" r="8.3" fill="none" stroke="#2DB1FB" stroke-width="2.3"/>
<path d="M738.54,415.67 A10.0,10.0 0 0 1 744.51,410.39" fill="none" stroke="#2DB1FB" stroke-width="3.2"/>
<path d="M750.69,410.39 A10.0,10.0 0 0 1 756.66,415.67" fill="none" stroke="#2DB1FB" stroke-width="3.2"/>
<rect x="744.5" y="407.4" width="6.6" height="3.0" fill="none" stroke="#2DB1FB" stroke-width="1.7" rx="0.8"/>
<line x1="741.6" y1="426.2" x2="740.2" y2="429.6" stroke="#2DB1FB" stroke-width="2.2" stroke-linecap="round"/>
<line x1="753.6" y1="426.2" x2="755.0" y2="429.6" stroke="#2DB1FB" stroke-width="2.2" stroke-linecap="round"/>
<polyline points="745.0,416.2 748.2,420.9 751.9,420.9" fill="none" stroke="#2DB1FB" stroke-width="1.9" stroke-linecap="round" stroke-linejoin="round"/>
<text x="768.2" y="422.1" font-size="9.6" font-weight="bold" fill="#111" text-anchor="start" textLength="39.7" lengthAdjust="spacingAndGlyphs">Test time</text>
<text x="811.0" y="422.1" font-size="9.6" font-weight="bold" fill="#C00000" text-anchor="start" textLength="23.3" lengthAdjust="spacingAndGlyphs">&lt; 20s</text>
</svg>
</body></html>
